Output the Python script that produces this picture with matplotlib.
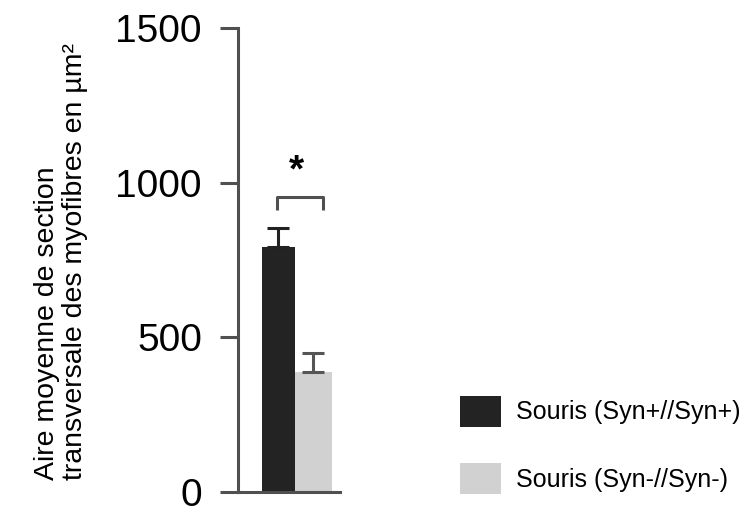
import matplotlib
matplotlib.use('Agg')
import matplotlib.pyplot as plt
from matplotlib.patches import Patch

groups = ['Souris (Syn+//Syn+)', 'Souris (Syn-//Syn-)']
means = [792, 388]
errors = [61, 61]
yticks = [0, 500, 1000, 1500]
ylabel = 'Aire moyenne de section\ntransversale des myofibres en µm²'

plt.rcParams['font.family'] = ['Liberation Sans', 'DejaVu Sans']

colors = ['#232323', '#d0d1d0']
axc = '#505050'

fig = plt.figure(figsize=(7.45, 5.20), dpi=100)
ax = fig.add_axes([238 / 745, 28 / 520, 102 / 745, 464 / 520])

pos = [0.397, 0.74]
widths = [0.324, 0.363]
for p, w, m, e, c, ec in zip(pos, widths, means, errors, colors, ['#222222', '#555555']):
    ax.bar(p, m, width=w, color=c, zorder=2)
    ax.errorbar(p, m, yerr=[[0], [e]], fmt='none', ecolor=ec, elinewidth=2.2,
                capsize=8, capthick=2.2, zorder=3)

# significance bracket
ax.plot([0.382, 0.382, 0.833, 0.833], [912, 954, 954, 912], color=axc, lw=2.2,
        solid_capstyle='butt', clip_on=False)
ax.text(0.578, 1035, '*', ha='center', va='center', fontsize=28, fontweight='bold')

ax.set_xlim(0, 1)
ax.set_ylim(0, 1500)
ax.set_yticks(yticks)
ax.set_xticks([])
for s in ['top', 'right']:
    ax.spines[s].set_visible(False)
for s in ['left', 'bottom']:
    ax.spines[s].set_color(axc)
    ax.spines[s].set_linewidth(2.2)
ax.tick_params(axis='y', length=13, width=2.2, color=axc, pad=13, labelsize=28)
ax.patch.set_visible(False)

fig.text(61 / 745, 40 / 520, ylabel, rotation=90, ha='center', va='bottom',
         multialignment='left', fontsize=20.5, linespacing=1.1)

handles = [Patch(facecolor=c, edgecolor='none') for c in colors]
fig.legend(handles, groups, loc='center left', bbox_to_anchor=(460 / 745, 75 / 520),
           frameon=False, fontsize=18, handlelength=1.65, handleheight=1.55,
           handletextpad=0.6, labelspacing=1.45, borderpad=0, borderaxespad=0)

fig.savefig('out.png', dpi=100)
